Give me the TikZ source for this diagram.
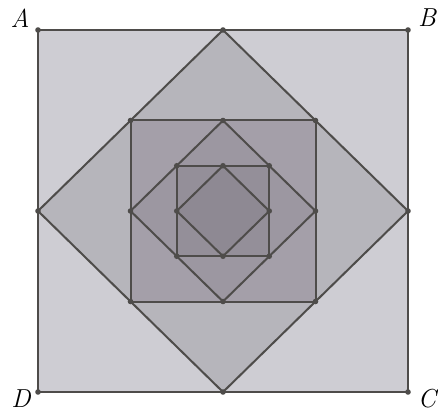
\documentclass[tikz,border=0pt]{standalone}
\usetikzlibrary{calc}
\definecolor{strich}{RGB}{78,76,74}
\definecolor{grauA}{RGB}{206,205,211}
\definecolor{grauB}{RGB}{182,181,187}
\definecolor{grauC}{RGB}{164,159,169}
\definecolor{grauD}{RGB}{156,151,161}
\definecolor{grauE}{RGB}{148,143,153}
\definecolor{grauF}{RGB}{142,137,147}
\tikzset{punkt/.style={fill=strich, draw=none},
	ecke/.style={black, inner sep=0pt, font=\fontsize{26}{31}\selectfont\itshape}}

\begin{document}
\begin{tikzpicture}[x=1pt, y=-1pt, strich, line width=2pt, line join=round]
	\useasboundingbox (0,0) rectangle (438,414);

	% outer square
	\coordinate (A) at (38,30);
	\coordinate (B) at (408,30);
	\coordinate (C) at (408,392);
	\coordinate (D) at (38,392);
	\draw[fill=grauA] (A) -- (B) -- (C) -- (D) -- cycle;

	% first diamond
	\coordinate (m1) at ($(A)!0.5!(B)$);
	\coordinate (m2) at ($(B)!0.5!(C)$);
	\coordinate (m3) at ($(C)!0.5!(D)$);
	\coordinate (m4) at ($(D)!0.5!(A)$);
	\draw[fill=grauB] (m1) -- (m2) -- (m3) -- (m4) -- cycle;

	% second square
	\coordinate (q1) at ($(m1)!0.5!(m4)$);
	\coordinate (q2) at ($(m1)!0.5!(m2)$);
	\coordinate (q3) at ($(m2)!0.5!(m3)$);
	\coordinate (q4) at ($(m3)!0.5!(m4)$);
	\draw[fill=grauC] (q1) -- (q2) -- (q3) -- (q4) -- cycle;

	% second diamond
	\coordinate (n1) at ($(q1)!0.5!(q2)$);
	\coordinate (n2) at ($(q2)!0.5!(q3)$);
	\coordinate (n3) at ($(q3)!0.5!(q4)$);
	\coordinate (n4) at ($(q4)!0.5!(q1)$);
	\draw[fill=grauD] (n1) -- (n2) -- (n3) -- (n4) -- cycle;

	% third square
	\coordinate (r1) at ($(n1)!0.5!(n4)$);
	\coordinate (r2) at ($(n1)!0.5!(n2)$);
	\coordinate (r3) at ($(n2)!0.5!(n3)$);
	\coordinate (r4) at ($(n3)!0.5!(n4)$);
	\draw[fill=grauE] (r1) -- (r2) -- (r3) -- (r4) -- cycle;

	% third diamond
	\coordinate (k1) at ($(r1)!0.5!(r2)$);
	\coordinate (k2) at ($(r2)!0.5!(r3)$);
	\coordinate (k3) at ($(r3)!0.5!(r4)$);
	\coordinate (k4) at ($(r4)!0.5!(r1)$);
	\draw[fill=grauF] (k1) -- (k2) -- (k3) -- (k4) -- cycle;

	% vertices
	\foreach \p in {A,B,C,D,m1,m2,m3,m4,q1,q2,q3,q4,n1,n2,n3,n4,r1,r2,r3,r4,k1,k2,k3,k4}
		\fill[punkt] (\p) circle (2.8);

	\node[ecke] (lA) at (20,18) {A};
	\node[ecke] (lB) at (427,18) {B};
	\node[ecke] (lC) at (427,399) {C};
	\node[ecke] (lD) at (21,399) {D};

\end{tikzpicture}
\end{document}
